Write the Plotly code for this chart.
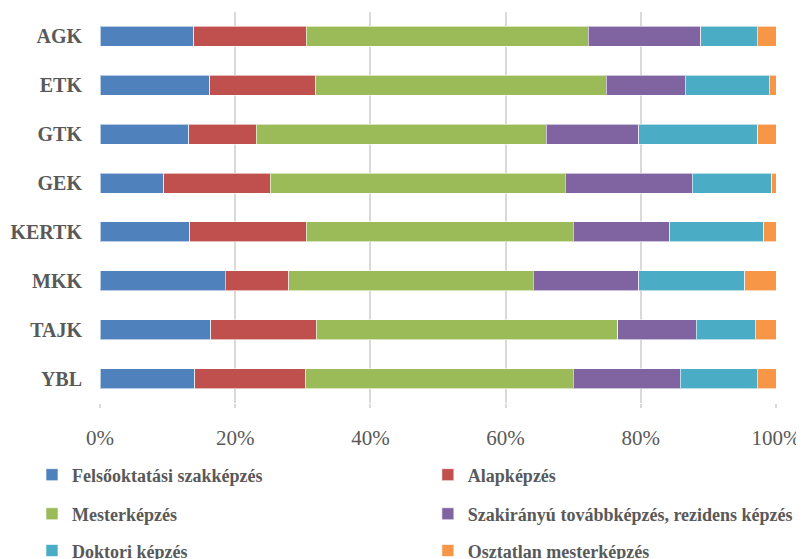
import plotly.graph_objects as go

# Karok (felülről lefelé)
karok = ["AGK", "ETK", "GTK", "GEK", "KERTK", "MKK", "TAJK", "YBL"]

# Képzési szintek aránya (%) karonként
felsooktatasi = [13.9, 16.2, 13.1, 9.4, 13.3, 18.5, 16.4, 14.0]
alapkepzes = [16.6, 15.7, 10.0, 15.8, 17.2, 9.4, 15.6, 16.4]
mesterkepzes = [41.7, 43.0, 42.9, 43.6, 39.5, 36.2, 44.6, 39.6]
szakiranyu = [16.7, 11.7, 13.7, 18.8, 14.3, 15.6, 11.6, 15.8]
doktori = [8.3, 12.4, 17.6, 11.8, 13.9, 15.7, 8.7, 11.4]
osztatlan = [2.8, 1.0, 2.7, 0.6, 1.8, 4.6, 3.1, 2.8]

tick_vals = [0, 20, 40, 60, 80, 100]
tick_text = ["0%", "20%", "40%", "60%", "80%", "100%"]

sorozatok = [
    ("Felsőoktatási szakképzés", felsooktatasi, "#4F81BD"),
    ("Alapképzés", alapkepzes, "#C0504D"),
    ("Mesterképzés", mesterkepzes, "#9BBB59"),
    ("Szakirányú továbbképzés, rezidens képzés", szakiranyu, "#8064A2"),
    ("Doktori képzés", doktori, "#4BACC6"),
    ("Osztatlan mesterképzés", osztatlan, "#F79646"),
]

betu = "Liberation Serif, Times New Roman, serif"
szurke = "#595959"

fig = go.Figure()
for i, (nev, ertekek, szin) in enumerate(sorozatok):
    fig.add_trace(
        go.Bar(
            y=karok,
            x=ertekek,
            name=nev,
            orientation="h",
            legend="legend" if i == 0 else f"legend{i + 1}",
            marker=dict(color=szin, line=dict(color="rgba(255,255,255,0.6)", width=1)),
        )
    )

# minden tétel külön jelmagyarázat, két oszlopban
oszlop_x = [-0.1006, 0.485]
sor_y = [-0.184, -0.284, -0.378]


def jelmagyarazat(i):
    return dict(
        orientation="h",
        x=oszlop_x[i % 2],
        xanchor="left",
        y=sor_y[i // 2],
        yanchor="middle",
        itemwidth=30,
        font=dict(family=betu, size=18, color=szurke, weight="bold"),
        bgcolor="rgba(0,0,0,0)",
    )


legendak = {("legend" if i == 0 else f"legend{i + 1}"): jelmagyarazat(i) for i in range(6)}

# a lap 8 px-es margóját levonjuk a méretből
fig.update_layout(
    width=796,
    height=551,
    showlegend=True,
    barmode="stack",
    bargap=0.59,
    plot_bgcolor="white",
    paper_bgcolor="white",
    margin=dict(l=92, r=28, t=4, b=156, autoexpand=False),
    xaxis=dict(
        range=[0, 100],
        tickvals=tick_vals,
        ticktext=tick_text,
        showgrid=True,
        gridcolor="#d9d9d9",
        gridwidth=2,
        zeroline=False,
        ticks="outside",
        ticklen=4,
        tickcolor="#d9d9d9",
        tickwidth=2,
        ticklabelstandoff=12,
        tickfont=dict(family=betu, size=21, color=szurke),
    ),
    yaxis=dict(
        categoryorder="array",
        categoryarray=karok,
        autorange="reversed",
        showgrid=False,
        zeroline=False,
        ticks="",
        ticklabelstandoff=17,
        tickfont=dict(family=betu, size=20, color=szurke, weight="bold"),
    ),
    **legendak,
)

fig.write_html("out.html")
